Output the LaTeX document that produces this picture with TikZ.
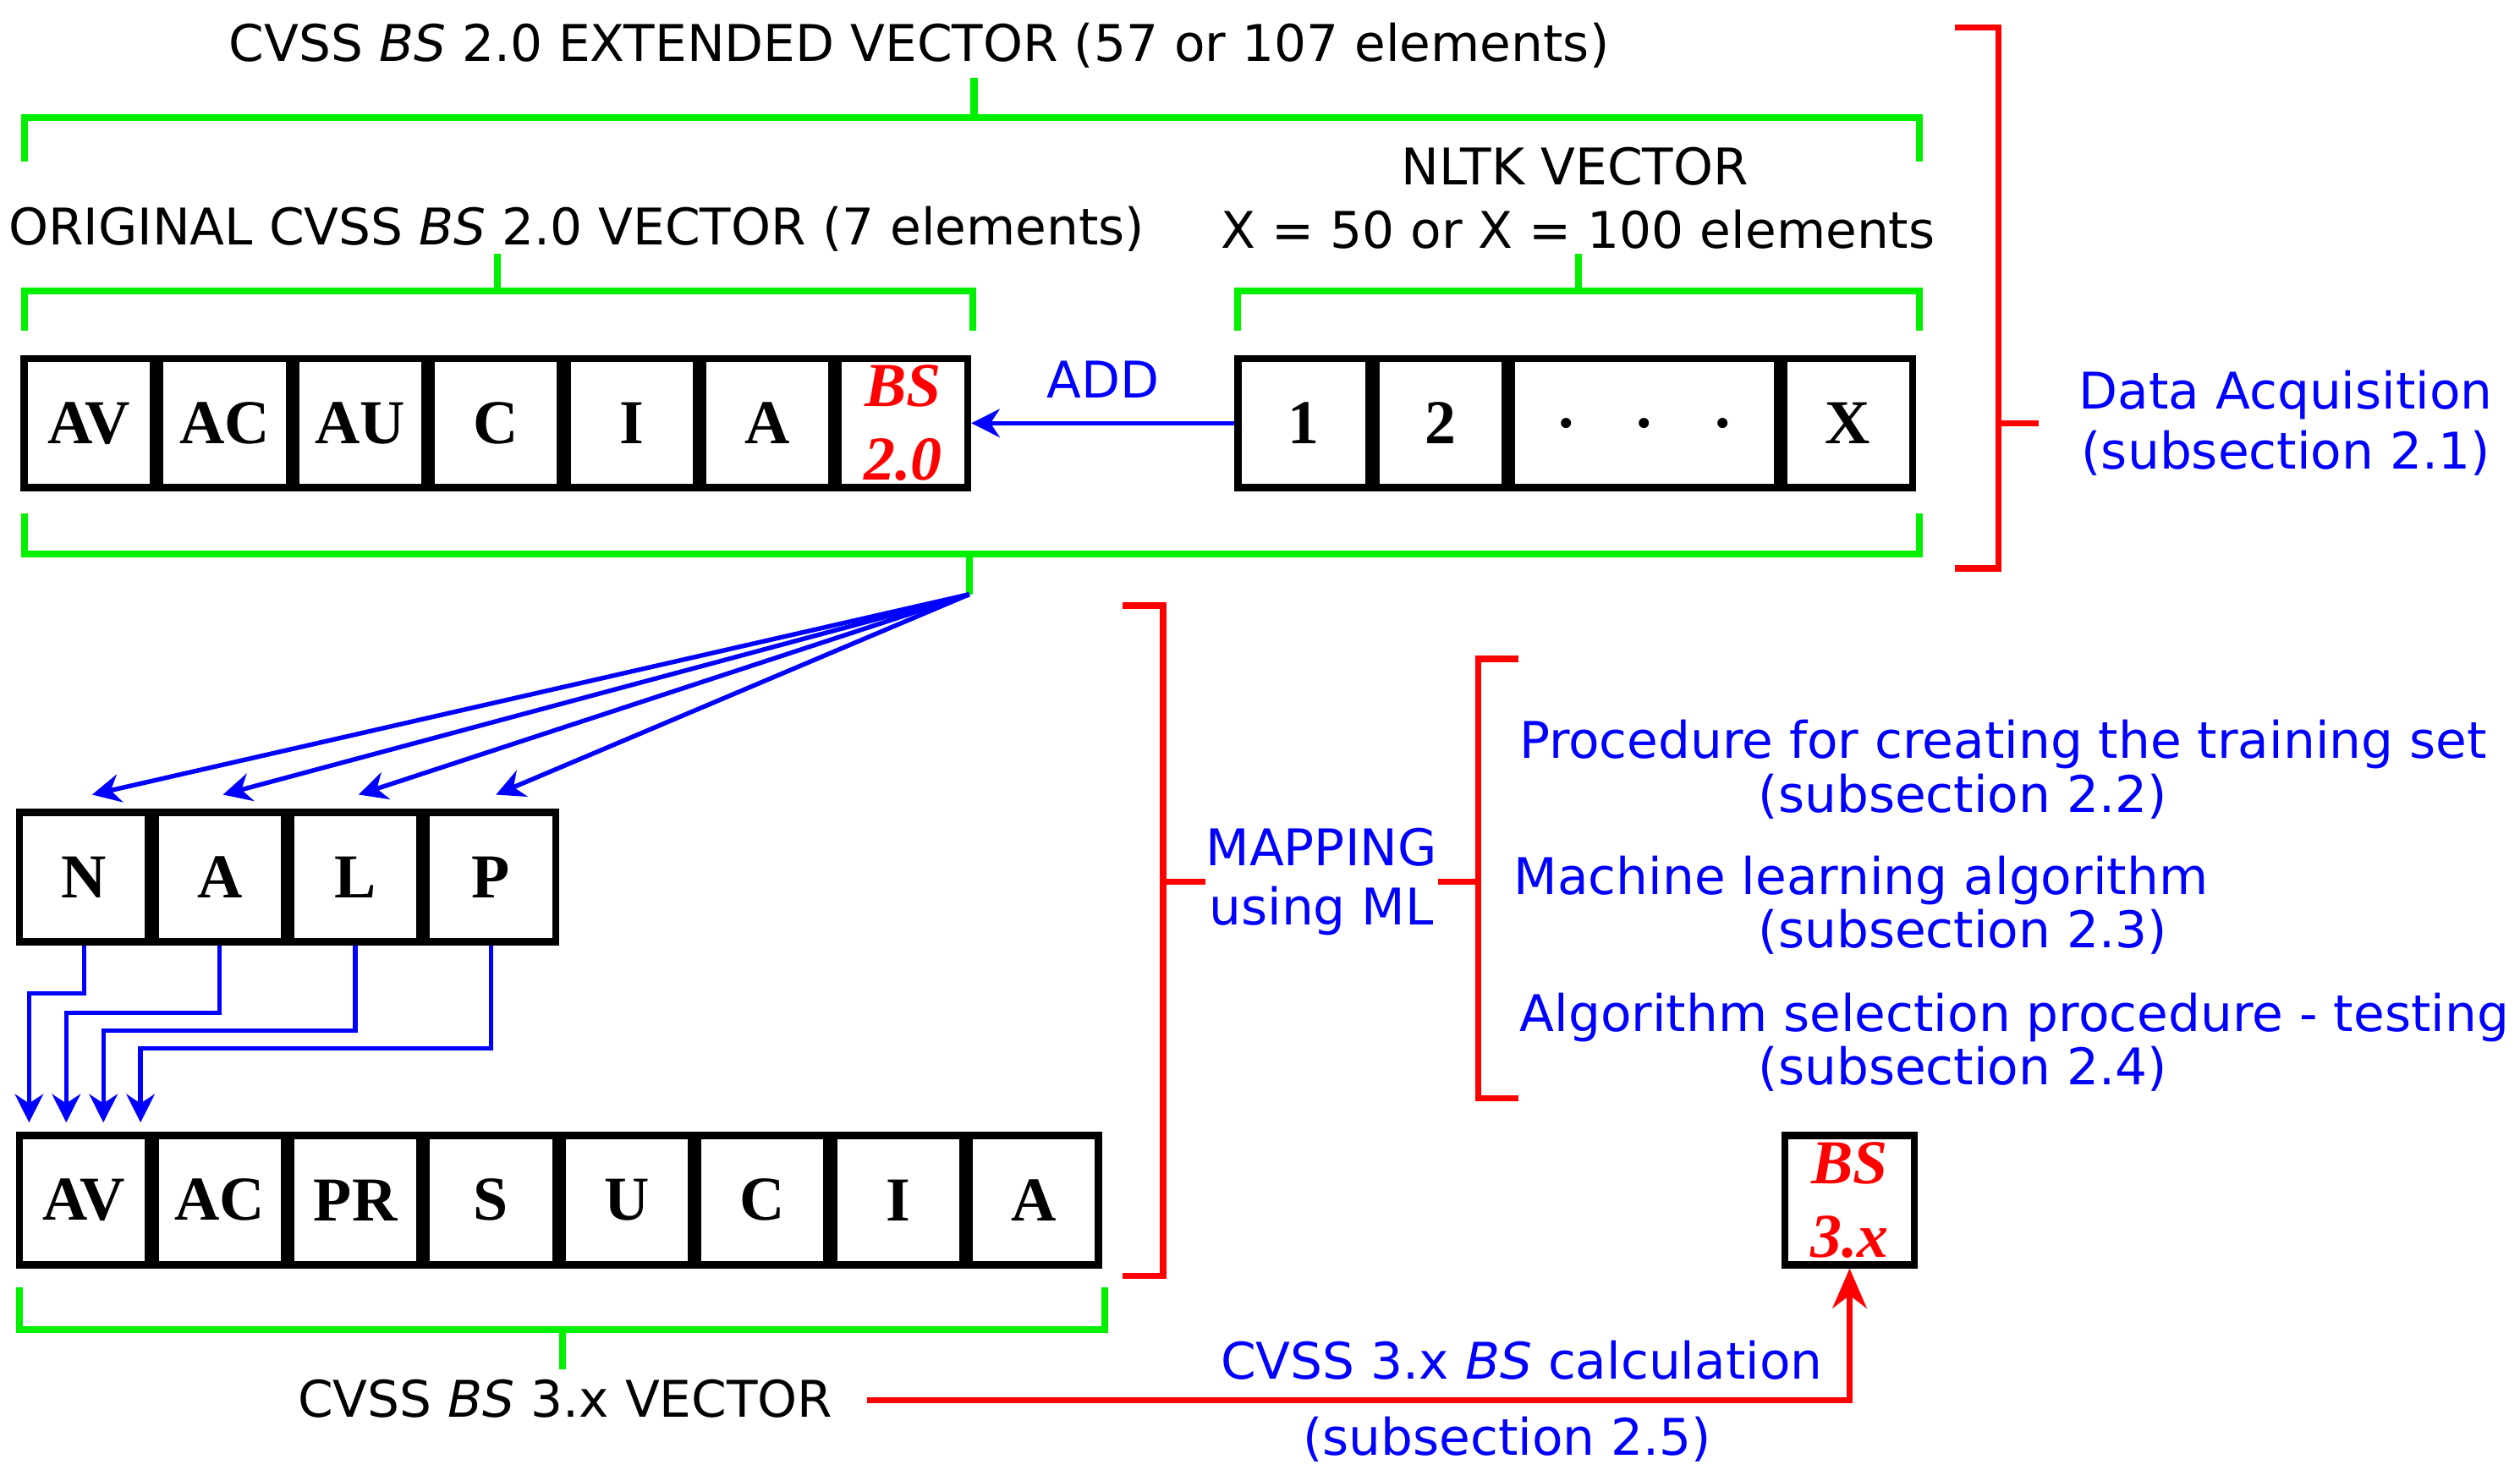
\documentclass[tikz,border=0pt]{standalone}
\usepackage{fontspec}
\setmainfont{DejaVu Sans}
\newfontfamily\tms{Liberation Serif}
\usetikzlibrary{arrows.meta}
\begin{document}
\begin{tikzpicture}[x=0.01cm,y=-0.01cm,
  grn/.style={draw={rgb,255:red,0;green,240;blue,0},line width=1.2pt},
  rbr/.style={draw=red,line width=1.1pt},
  cell/.style={draw=black,line width=1.3pt,minimum height=0.80cm,inner sep=0pt,font=\tms\fontsize{11}{12}\selectfont\bfseries},
  bsc/.style={cell,minimum width=0.80cm,text=red,align=center,font=\tms\fontsize{11}{12}\selectfont\bfseries\itshape},
  lbl/.style={font=\fontsize{8.9}{10.5}\selectfont,inner sep=0pt},
  blbl/.style={lbl,text=blue},
  barr/.style={draw=blue,line width=0.8pt,-{Stealth[length=5pt,width=5pt]}},
  rarr/.style={draw=red,line width=1.1pt,-{Stealth[length=7pt,width=6pt]}}]
\useasboundingbox (0,0) rectangle (1560,910);
% top texts
\node[lbl] (t1) at (569,28) {CVSS \textit{BS} 2.0 EXTENDED VECTOR (57 or 107 elements)};
\draw[grn] (15,100) -- (15,73) -- (1188,73) -- (1188,100) (603,73) -- (603,48);
\node[lbl] (t2) at (357,142) {ORIGINAL CVSS \textit{BS} 2.0 VECTOR (7 elements)};
\draw[grn] (15,205) -- (15,180) -- (602,180) -- (602,205) (308,180) -- (308,157);
\node[lbl] (t3) at (975,103) {NLTK VECTOR};
\node[lbl] (t4) at (977,142) {X = 50 or X = 100 elements};
\draw[grn] (766,205) -- (766,180) -- (1188,180) -- (1188,205) (977,180) -- (977,157);
% row 1
\foreach \t [count=\i] in {AV,AC,AU,C,I,A}
  \node[cell,minimum width=0.80cm] (r\i) at (15+84*\i-44,262) {\t};
\node[bsc] (r7) at (559,262) {BS\\[1pt]2.0};
\node[cell,minimum width=0.81cm] (n1) at (807,262) {1};
\node[cell,minimum width=0.80cm] (n2) at (892,262) {2};
\node[cell,minimum width=1.65cm] (n3) at (1018,262) {.\quad.\quad.};
\node[cell,minimum width=0.80cm] (n4) at (1144,262) {X};
\draw[barr] (n1.west) -- (r7.east) node[blbl,midway,above=4pt] {ADD};
\draw[grn] (15,318) -- (15,343) -- (1188,343) -- (1188,318) (600,343) -- (600,368);
\coordinate (src) at (600,368);
% data acquisition bracket
\draw[rbr] (1210,17) -- (1237,17) -- (1237,352) -- (1210,352) (1237,262) -- (1262,262);
\node[blbl,align=center] (da) at (1415,262) {Data Acquisition\\ (subsection 2.1)};
% row 2
\foreach \t [count=\i] in {N,A,L,P}
  \node[cell,minimum width=0.80cm] (m\i) at (12+84*\i-44,543) {\t};
\foreach \i/\x in {1/57,2/138,3/222,4/307}{
  \coordinate (e\i) at (\x,492);
  \draw[barr] (src) -- (e\i);}
% row 3
\foreach \t [count=\i] in {AV,AC,PR,S,U,C,I,A}
  \node[cell,minimum width=0.80cm] (b\i) at (12+84*\i-44,743) {\t};
\foreach \i/\y/\x in {1/615/18,2/627/41,3/638/64,4/649/87}{
  \coordinate (d\i) at (\x,695);
  \draw[barr] (m\i.south) |- (\x,\y) -- (d\i);}
\draw[grn] (12,797) -- (12,823) -- (684,823) -- (684,797) (348,823) -- (348,848);
\node[lbl] (t5) at (350,866) {CVSS \textit{BS} 3.x VECTOR};
% BS 3.x
\node[bsc] (bs3) at (1145,743) {BS\\[1pt]3.x};
\coordinate (c0) at (537,867);
\draw[rarr] (c0) -| (bs3.south);
\node[blbl] (c1) at (942,842) {CVSS 3.x \textit{BS} calculation};
\node[blbl] (c2) at (933,891) {(subsection 2.5)};
% mapping
\draw[rbr] (695,375) -- (720,375) -- (720,790) -- (695,790) (720,546) -- (746,546);
\node[blbl,align=center] (mp) at (818,546) {MAPPING\\using ML};
\draw[rbr] (890,546) -- (915,546) (940,408) -- (915,408) -- (915,680) -- (940,680);
\node[blbl] (p1) at (1240,461) {Procedure for creating the training set};
\node[blbl] (p2) at (1215,493) {(subsection 2.2)};
\node[blbl] (p3) at (1152,545) {Machine learning algorithm};
\node[blbl] (p4) at (1215,577) {(subsection 2.3)};
\node[blbl] (p5) at (1247,630) {Algorithm selection procedure - testing};
\node[blbl] (p6) at (1215,662) {(subsection 2.4)};
\end{tikzpicture}
\end{document}
